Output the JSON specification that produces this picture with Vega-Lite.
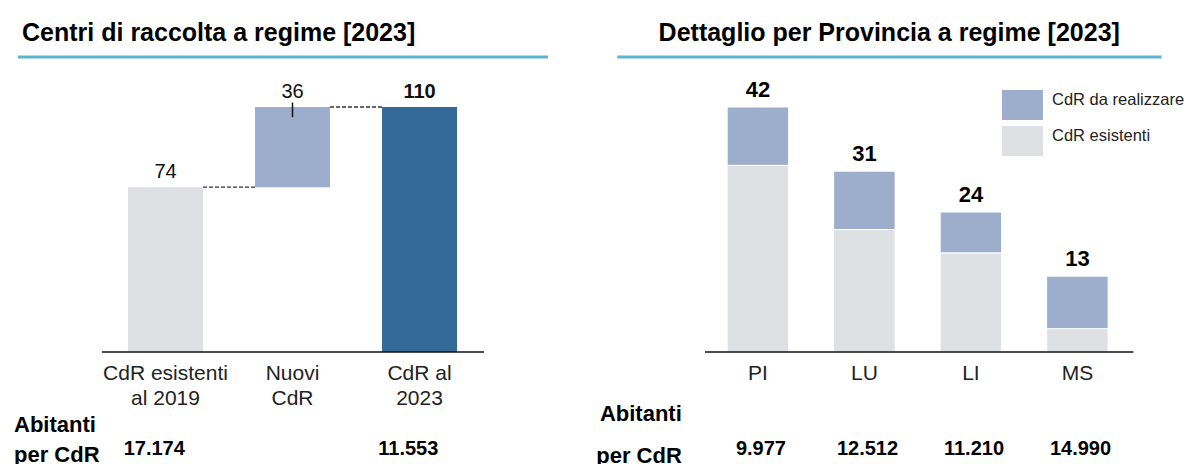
{
  "$schema": "https://vega.github.io/schema/vega-lite/v6.json",
  "padding": 0,
  "spacing": 12,
  "bounds": "flush",
  "background": "white",
  "config": {
    "view": {"stroke": null},
    "font": "Liberation Sans",
    "text": {"font": "Liberation Sans", "color": "#111"}
  },
  "resolve": {"scale": {"color": "independent"}, "legend": {"color": "independent"}},
  "datasets": {
    "cascata": [
      {"voce": "CdR esistenti\nal 2019", "inizio": 0, "fine": 74, "valore": 74, "tipo": "esistenti", "abitanti": "17.174"},
      {"voce": "Nuovi\nCdR", "inizio": 74, "fine": 110, "valore": 36, "tipo": "nuovi", "abitanti": ""},
      {"voce": "CdR al\n2023", "inizio": 0, "fine": 110, "valore": 110, "tipo": "totale", "abitanti": "11.553"}
    ],
    "province": [
      {"provincia": "PI", "tipo": "CdR esistenti", "n": 32},
      {"provincia": "PI", "tipo": "CdR da realizzare", "n": 10},
      {"provincia": "LU", "tipo": "CdR esistenti", "n": 21},
      {"provincia": "LU", "tipo": "CdR da realizzare", "n": 10},
      {"provincia": "LI", "tipo": "CdR esistenti", "n": 17},
      {"provincia": "LI", "tipo": "CdR da realizzare", "n": 7},
      {"provincia": "MS", "tipo": "CdR esistenti", "n": 4},
      {"provincia": "MS", "tipo": "CdR da realizzare", "n": 9}
    ],
    "abitanti_prov": [
      {"provincia": "PI", "abitanti": "9.977"},
      {"provincia": "LU", "abitanti": "12.512"},
      {"provincia": "LI", "abitanti": "11.210"},
      {"provincia": "MS", "abitanti": "14.990"}
    ]
  },
  "hconcat": [
    {
      "width": 583,
      "height": 464,
      "layer": [
        {
          "data": {"values": [{}]},
          "mark": {"type": "rule", "color": "#5AB4D3", "strokeWidth": 3},
          "encoding": {
            "x": {"datum": "CdR esistenti\nal 2019", "type": "nominal", "bandPosition": -1.467,
                  "scale": {"domain": ["CdR esistenti\nal 2019", "Nuovi\nCdR", "CdR al\n2023"], "paddingInner": 0.40945, "paddingOuter": 1, "align": 0.504, "round": false},
                  "axis": null},
            "x2": {"datum": "CdR al\n2023", "bandPosition": 2.213},
            "y": {"datum": 132.45, "type": "quantitative", "scale": {"domain": [-50.29, 158.04], "nice": false, "zero": false}, "axis": null}
          }
        },
        {
          "data": {"values": [{}]},
          "mark": {"type": "text", "text": "Centri di raccolta a regime [2023]", "align": "left", "baseline": "middle", "fontSize": 25, "fontWeight": "bold", "color": "#000"},
          "encoding": {
            "x": {"datum": "CdR esistenti\nal 2019", "type": "nominal", "bandPosition": -1.413},
            "y": {"datum": 143.22, "type": "quantitative"}
          }
        },
        {
          "data": {"name": "cascata"},
          "mark": {"type": "bar"},
          "encoding": {
            "x": {"field": "voce", "type": "nominal"},
            "y": {"field": "inizio", "type": "quantitative"},
            "y2": {"field": "fine"},
            "color": {"field": "tipo", "type": "nominal", "legend": null,
                      "scale": {"domain": ["esistenti", "nuovi", "totale"], "range": ["#DFE0E4", "#9CAECB", "#346A97"]}}
          }
        },
        {
          "data": {"values": [{}]},
          "mark": {"type": "rule", "color": "#333", "strokeWidth": 1.3, "strokeDash": [4, 2]},
          "encoding": {
            "x": {"datum": "CdR esistenti\nal 2019", "type": "nominal", "bandPosition": 1},
            "x2": {"datum": "Nuovi\nCdR", "bandPosition": 0},
            "y": {"datum": 74, "type": "quantitative"}
          }
        },
        {
          "data": {"values": [{}]},
          "mark": {"type": "rule", "color": "#333", "strokeWidth": 1.3, "strokeDash": [4, 2]},
          "encoding": {
            "x": {"datum": "Nuovi\nCdR", "type": "nominal", "bandPosition": 1},
            "x2": {"datum": "CdR al\n2023", "bandPosition": 0},
            "y": {"datum": 110, "type": "quantitative"}
          }
        },
        {
          "data": {"values": [{}]},
          "mark": {"type": "rule", "color": "#111", "strokeWidth": 1.5},
          "encoding": {
            "x": {"datum": "Nuovi\nCdR", "type": "nominal"},
            "y": {"datum": 112, "type": "quantitative"},
            "y2": {"datum": 105.4}
          }
        },
        {
          "data": {"values": [{}]},
          "mark": {"type": "rule", "color": "#111", "strokeWidth": 1.5},
          "encoding": {
            "x": {"datum": "CdR esistenti\nal 2019", "type": "nominal", "bandPosition": -0.347},
            "x2": {"datum": "CdR al\n2023", "bandPosition": 1.36},
            "y": {"datum": 0, "type": "quantitative"}
          }
        },
        {
          "data": {"name": "cascata"},
          "transform": [{"filter": "datum.tipo != 'totale'"}],
          "mark": {"type": "text", "baseline": "bottom", "dy": -5, "fontSize": 20},
          "encoding": {
            "x": {"field": "voce", "type": "nominal"},
            "y": {"field": "fine", "type": "quantitative"},
            "text": {"field": "valore"}
          }
        },
        {
          "data": {"name": "cascata"},
          "transform": [{"filter": "datum.tipo == 'totale'"}],
          "mark": {"type": "text", "baseline": "bottom", "dy": -5, "fontSize": 20, "fontWeight": "bold"},
          "encoding": {
            "x": {"field": "voce", "type": "nominal"},
            "y": {"field": "fine", "type": "quantitative"},
            "text": {"field": "valore"}
          }
        },
        {
          "data": {"name": "cascata"},
          "mark": {"type": "text", "baseline": "top", "lineBreak": "\n", "lineHeight": 25, "fontSize": 21, "color": "#222"},
          "encoding": {
            "x": {"field": "voce", "type": "nominal"},
            "y": {"datum": -4.8, "type": "quantitative"},
            "text": {"field": "voce"}
          }
        },
        {
          "data": {"name": "cascata"},
          "mark": {"type": "text", "baseline": "middle", "fontSize": 20, "fontWeight": "bold", "color": "#000"},
          "encoding": {
            "x": {"field": "voce", "type": "nominal", "bandPosition": 0.35},
            "y": {"datum": -43.55, "type": "quantitative"},
            "text": {"field": "abitanti"}
          }
        },
        {
          "data": {"values": [{}]},
          "mark": {"type": "text", "text": "Abitanti\nper CdR", "lineBreak": "\n", "lineHeight": 30, "align": "left", "baseline": "top", "fontSize": 22, "fontWeight": "bold", "color": "#000"},
          "encoding": {
            "x": {"datum": "CdR esistenti\nal 2019", "type": "nominal", "bandPosition": -1.52},
            "y": {"datum": -28.15, "type": "quantitative"}
          }
        }
      ]
    },
    {
      "width": 594,
      "height": 464,
      "layer": [
        {
          "data": {"values": [{}]},
          "mark": {"type": "rule", "color": "#5AB4D3", "strokeWidth": 3},
          "encoding": {
            "x": {"datum": "PI", "type": "nominal", "bandPosition": -1.787,
                  "scale": {"domain": ["PI", "LU", "LI", "MS"], "paddingInner": 0.42273, "paddingOuter": 1, "align": 0.6204, "round": false},
                  "axis": null},
            "x2": {"datum": "MS", "bandPosition": 1.869},
            "y": {"datum": 50.57, "type": "quantitative", "scale": {"domain": [-19.2, 60.343], "nice": false, "zero": false}, "axis": null}
          }
        },
        {
          "data": {"values": [{}]},
          "mark": {"type": "text", "text": "Dettaglio per Provincia a regime [2023]", "align": "left", "baseline": "middle", "fontSize": 25, "fontWeight": "bold", "color": "#000"},
          "encoding": {
            "x": {"datum": "PI", "type": "nominal", "bandPosition": -1.115},
            "y": {"datum": 54.69, "type": "quantitative"}
          }
        },
        {
          "data": {"name": "province"},
          "mark": {"type": "bar", "stroke": "white", "strokeWidth": 1},
          "encoding": {
            "x": {"field": "provincia", "type": "nominal"},
            "y": {"field": "n", "type": "quantitative", "stack": "zero"},
            "order": {"field": "tipo", "sort": "descending"},
            "color": {"field": "tipo", "type": "nominal",
                      "scale": {"domain": ["CdR da realizzare", "CdR esistenti"], "range": ["#9CAECB", "#DFE0E4"]},
                      "legend": {"orient": "none", "legendX": 407, "legendY": 84.5, "title": null,
                                 "symbolType": "M-1,-0.73H1V0.73H-1Z", "symbolSize": 1681, "symbolStrokeWidth": 0, "symbolOpacity": 1,
                                 "labelFontSize": 16.5, "labelFont": "Liberation Sans", "labelColor": "#222", "labelOffset": 9,
                                 "labelBaseline": "alphabetic", "rowPadding": -1, "padding": 0, "labelLimit": 300}}
          }
        },
        {
          "data": {"name": "province"},
          "mark": {"type": "text", "baseline": "bottom", "dy": -5, "fontSize": 22, "fontWeight": "bold", "color": "#000"},
          "encoding": {
            "x": {"field": "provincia", "type": "nominal"},
            "y": {"aggregate": "sum", "field": "n", "type": "quantitative"},
            "text": {"aggregate": "sum", "field": "n", "type": "quantitative"}
          }
        },
        {
          "data": {"values": [{}]},
          "mark": {"type": "rule", "color": "#111", "strokeWidth": 1.5},
          "encoding": {
            "x": {"datum": "PI", "type": "nominal", "bandPosition": -0.361},
            "x2": {"datum": "MS", "bandPosition": 1.41},
            "y": {"datum": 0, "type": "quantitative"}
          }
        },
        {
          "data": {"name": "abitanti_prov"},
          "mark": {"type": "text", "baseline": "middle", "fontSize": 21, "color": "#222"},
          "encoding": {
            "x": {"field": "provincia", "type": "nominal"},
            "y": {"datum": -3.77, "type": "quantitative"},
            "text": {"field": "provincia"}
          }
        },
        {
          "data": {"name": "abitanti_prov"},
          "mark": {"type": "text", "baseline": "middle", "fontSize": 20, "fontWeight": "bold", "color": "#000"},
          "encoding": {
            "x": {"field": "provincia", "type": "nominal", "bandPosition": 0.55},
            "y": {"datum": -16.63, "type": "quantitative"},
            "text": {"field": "abitanti"}
          }
        },
        {
          "data": {"values": [{}]},
          "mark": {"type": "text", "text": "Abitanti\nper CdR", "lineBreak": "\n", "lineHeight": 42, "align": "right", "baseline": "top", "fontSize": 22, "fontWeight": "bold", "color": "#000"},
          "encoding": {
            "x": {"datum": "PI", "type": "nominal", "bandPosition": -0.738},
            "y": {"datum": -8.86, "type": "quantitative"}
          }
        }
      ]
    }
  ]
}
